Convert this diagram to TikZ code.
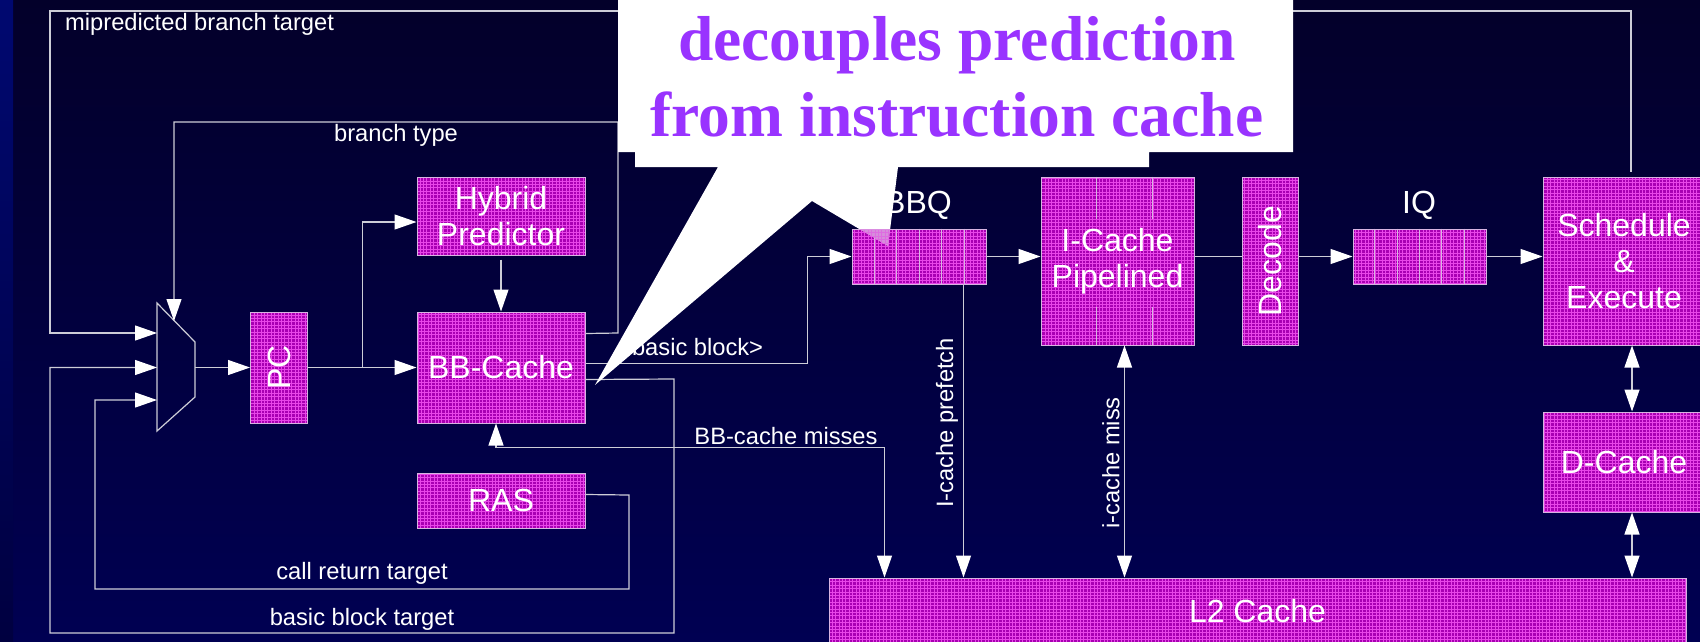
\documentclass[tikz,border=0pt]{standalone}
\usepackage{fontspec}
\setmainfont{Liberation Sans}
\newfontfamily\calloutfont{Liberation Serif}
\usetikzlibrary{arrows.meta,calc}
\definecolor{bgtop}{RGB}{3,0,42}
\definecolor{bgbot}{RGB}{0,0,82}
\definecolor{striptop}{RGB}{0,8,112}
\definecolor{stripbot}{RGB}{0,0,64}
\definecolor{boxfill}{RGB}{168,0,178}
\definecolor{boxgrid}{RGB}{232,70,232}
\definecolor{boxedge}{RGB}{215,180,225}
\definecolor{wirec}{RGB}{205,205,215}
\definecolor{callouttext}{RGB}{153,51,255}
\tikzset{
  wire/.style={draw=wirec, line width=1.2pt},
  tip/.style={-{Triangle[length=22pt,width=15pt,color=white]}},
  both/.style={{Triangle[length=22pt,width=15pt,color=white]}-{Triangle[length=22pt,width=15pt,color=white]}},
  blk/.style={draw=boxedge, line width=1pt, fill=boxfill, inner sep=0pt, text=white,
    font=\fontsize{32}{36}\selectfont, align=center,
    path picture={\draw[boxgrid, line width=0.6pt, step=3.4pt] (path picture bounding box.south west) grid (path picture bounding box.north east);}},
  lbl/.style={text=white, inner sep=0pt, font=\fontsize{23.7}{26}\selectfont},
  biglbl/.style={text=white, inner sep=0pt, font=\fontsize{32}{36}\selectfont},
  divider/.style={draw=boxedge, line width=1pt},
  ctext/.style={text=callouttext, inner sep=0pt, anchor=base, font=\calloutfont\bfseries\fontsize{63.5}{76}\selectfont},
}
\begin{document}
\begin{tikzpicture}[x=1pt,y=-1pt]
\useasboundingbox (0,0) rectangle (1700,641);
\clip (0,0) rectangle (1700,641);
% background
\shade[top color=bgtop, bottom color=bgbot] (0,0) rectangle (1700,641);
\shade[top color=striptop, bottom color=stripbot] (0,0) rectangle (13,641);

% mux
\coordinate (mA) at (157,303);
\coordinate (mB) at (195,342);
\coordinate (mC) at (195,397);
\coordinate (mD) at (157,431);
\draw[wire] (mA) -- (mB) -- (mC) -- (mD) -- cycle;
\coordinate (min1) at (157,333);
\coordinate (min2) at (157,367.5);
\coordinate (min3) at (157,400);
\coordinate (mout) at (195,367.5);
\coordinate (msel) at (174,321);

% blocks
\node[blk, minimum width=168, minimum height=78] (hyb) at (501,216) {Hybrid\\Predictor};
\node[blk, minimum width=168, minimum height=111] (bb) at (501,367.5) {BB-Cache};
\node[blk, minimum width=57, minimum height=111] (pc) at (279,367.5) {\rotatebox{90}{PC}};
\node[blk, minimum width=168, minimum height=55] (ras) at (501,500.5) {RAS};
\node[blk, minimum width=134, minimum height=55] (bbq) at (919,256.5) {};
\node[blk, minimum width=153, minimum height=168] (ic) at (1117.5,261) {I-Cache\\Pipelined};
\node[blk, minimum width=56, minimum height=168] (dec) at (1270,261) {\rotatebox{90}{Decode}};
\node[blk, minimum width=133, minimum height=55] (iq) at (1419.5,256.5) {};
\node[blk, minimum width=162, minimum height=168] (sch) at (1624,261) {Schedule\\\&\\Execute};
\node[blk, minimum width=162, minimum height=100] (dc) at (1624,462) {D-Cache};
\node[blk, minimum width=857, minimum height=66] (l2) at (1257.5,611) {L2 Cache};

% queue dividers
\foreach \i in {1,...,5} {
  \draw[divider] ($(bbq.north west)!\i/6!(bbq.north east)$) -- ($(bbq.south west)!\i/6!(bbq.south east)$);
  \draw[divider] ($(iq.north west)!\i/6!(iq.north east)$) -- ($(iq.south west)!\i/6!(iq.south east)$);
}
% I-cache internal pipeline marks
\foreach \dx in {56,112} {
  \draw[divider] ($(ic.north west)+(\dx,0)$) -- ++(0,42);
  \draw[divider] ($(ic.south west)+(\dx,0)$) -- ++(0,-39);
}

% connectors
\draw[wire,tip] ($(sch.north)+(7,-5)$) -- (1631,11) -- (50,11) |- (min1);
\draw[wire,tip] ($(bb.north east)+(0,22)$) -- (618,333) -- (618,122) -| (msel);
\draw[wire,tip] ($(bb.north east)+(0,52)$) -| ($(bbq.west)+(-44,0)$) -- (bbq.west);
\draw[wire,tip] ($(bb.north east)+(0,68)$) -- (674,379) -- (674,633) -- (50,633) |- (min2);
\draw[wire,tip] ($(ras.north east)+(0,22)$) -- (629,495) -- (629,589) -- (95,589) |- (min3);
\draw[wire,tip] (mout) -- (pc.west);
\draw[wire,tip] (pc.east) -- (bb.west);
\coordinate (jn) at ($(pc.east)!0.5!(bb.west)$);
\draw[wire,tip] (jn) |- ($(hyb.west)+(0,6)$);
\draw[wire,tip] ([yshift=-4pt]hyb.south) -- (bb.north);
\draw[wire,both] ($(bb.south)+(-5,0)$) -- ++(0,24) -| ($(l2.north west)+(56,0)$);
\draw[wire,tip] ($(bbq.south west)+(112,0)$) -- ($(l2.north west)+(135,0)$);
\draw[wire,both] ($(ic.south west)+(84,0)$) -- ($(l2.north west)+(296,0)$);
\draw[wire,tip] (bbq.east) -- (bbq.east -| ic.west);
\draw[wire] (ic.east |- bbq.east) -- (dec.west |- bbq.east);
\draw[wire,tip] (dec.east |- iq.west) -- (iq.west);
\draw[wire,tip] (iq.east) -- (iq.east -| sch.west);
\draw[wire,both] ($(sch.south)+(8,0)$) -- ($(dc.north)+(8,0)$);
\draw[wire,both] ($(dc.south)+(8,0)$) coordinate (dcs) -- (dcs |- l2.north);

% labels
\node[lbl, anchor=west] (tmis) at (65,24) {mipredicted branch target};
\node[lbl] (tbt) at (396,135) {branch type};
\node[lbl, anchor=west] (tbb) at (618,347) {<basic block>};
\node[lbl] (tmiss) at (786,436) {BB-cache misses};
\node[lbl] (tcrt) at (362,573) {call return target};
\node[lbl] (tbbt) at (362,619) {basic block target};
\node[lbl, rotate=90] (tpf) at (947,423) {I-cache prefetch};
\node[lbl, rotate=90] (tim) at (1111,463) {i-cache miss};
\node[biglbl] (tbbq) at (918,205) {BBQ};
\node[biglbl] (tiq) at (1419,205) {IQ};

% callout
\fill[white] (618,-5) -- (1293,-5) -- (1293,152) -- (1149,152) -- (1149,167) -- (898,167)
  -- (888,246) -- (812,201) -- (595,385) -- (718,167) -- (635,167) -- (635,152) -- (618,152) -- cycle;
\begin{scope}
  \clip (898,167) -- (888,246) -- (812,201) -- cycle;
  \node[blk, opacity=0.45, minimum width=134, minimum height=55] (bbqv) at (919,256.5) {};
\end{scope}
\node[ctext] (ct1) at (957,60) {decouples prediction};
\node[ctext] (ct2) at (957,136) {from instruction cache};
\end{tikzpicture}
\end{document}
